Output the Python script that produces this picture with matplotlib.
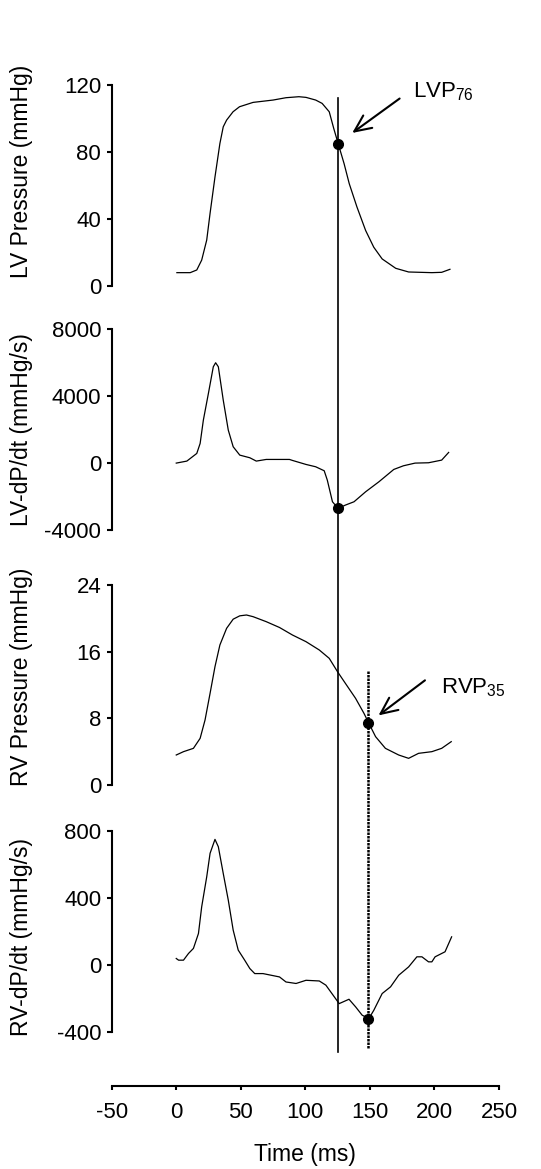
import numpy as np
import matplotlib
matplotlib.use("Agg")
import matplotlib.pyplot as plt
import matplotlib.transforms as mtransforms
from matplotlib.lines import Line2D

plt.rcParams['font.family'] = ['Liberation Sans', 'DejaVu Sans']
plt.rcParams['axes.unicode_minus'] = False
plt.rcParams['mathtext.fontset'] = 'custom'
plt.rcParams['mathtext.rm'] = 'Liberation Sans'
plt.rcParams['mathtext.it'] = 'Liberation Sans:italic'

# ---------------- data ----------------
# LV pressure (mmHg)
t_lvp = [0.5, 10.8, 15.9, 19.7, 23.6, 26.2, 30, 33.8, 36.4, 39, 44, 49, 59.5, 75, 85, 95,
         100.5, 108, 113, 118.5, 122, 125.4, 130, 134, 140, 146.7, 153, 159.5, 170, 180,
         198, 205.6, 212]
lvp = [7.8, 7.8, 9.4, 15.3, 27.3, 43.3, 65, 85, 95, 99, 104, 107, 109.6, 111, 112.4, 113,
       112.6, 111, 109, 104, 94, 85, 73, 61, 47, 33, 23, 16, 10.4, 8.2, 7.8, 8, 9.8]

# LV dP/dt (mmHg/s)
t_lvd = [0, 8.2, 15.9, 18.5, 21, 24.9, 28.7, 30.5, 32.6, 36.4, 40.3, 44.1, 49.2, 57, 62,
         69.7, 87.7, 90, 100.5, 108, 114.6, 117, 121, 125.4, 131, 137.7, 146.7, 157, 168.5,
         176, 185, 195.4, 205.6, 211]
lvd = [0, 120, 578, 1176, 2571, 4165, 5760, 6000, 5760, 3767, 1973, 977, 478, 319, 120,
       219, 219, 160, -80, -219, -458, -1016, -2312, -2710, -2511, -2312, -1714, -1116,
       -379, -160, 0, 20, 179, 638]

# RV pressure (mmHg)
t_rvp = [0, 5.6, 13.3, 18.5, 22.3, 26.2, 30, 33.8, 39, 44.1, 49.2, 54.4, 59.5, 69.7, 80,
         90, 100.5, 110.8, 118.5, 124.9, 131, 138.9, 145.4, 149.2, 154.4, 162, 172.3, 180,
         187.7, 198, 205.6, 213]
rvp = [3.6, 4.0, 4.4, 5.6, 7.8, 11, 14.2, 16.8, 18.8, 19.9, 20.3, 20.4, 20.2, 19.6, 18.9,
       18, 17.2, 16.2, 15.2, 13.6, 12.2, 10.4, 8.6, 7.4, 5.8, 4.4, 3.6, 3.2, 3.8, 4.0, 4.4, 5.2]

# RV dP/dt (mmHg/s)
t_rvd = [0, 1.8, 5.6, 9.5, 13.3, 17.2, 19.7, 23.6, 26.2, 30, 32.6, 36.4, 40.3, 44.1, 48,
         53, 57, 60.8, 67.2, 80, 85, 92.8, 100.5, 110.8, 115.9, 126.2, 133.8, 139, 144,
         149.2, 153, 159.5, 166, 172.3, 180, 186.4, 190.3, 195.4, 198, 200.5, 208.2, 213.3]
rvd = [40, 30, 30, 70, 100, 189, 348, 527, 667, 750, 706, 547, 388, 209, 90,
       30, -20, -50, -50, -70, -100, -109, -90, -94, -119, -229, -203, -249, -298,
       -318, -269, -169, -129, -60, -10, 50, 50, 20, 20, 50, 80, 169]

# marker times / values
t_lv_mark, lv_mark, lvd_mark = 125, 85, -2710
t_rv_mark, rv_mark, rvd_mark = 148.5, 7.4, -318

panel_labels = ['LV Pressure (mmHg)', 'LV-dP/dt (mmHg/s)', 'RV Pressure (mmHg)', 'RV-dP/dt (mmHg/s)']
panel_ylims = [(0, 120), (-4000, 8000), (0, 24), (-400, 800)]
panel_yticks = [[0, 40, 80, 120], [-4000, 0, 4000, 8000], [0, 8, 16, 24], [-400, 0, 400, 800]]
xticks = [-50, 0, 50, 100, 150, 200, 250]

# ---------------- layout ----------------
W, H = 541, 1169
fig = plt.figure(figsize=(W / 100, H / 100), dpi=100)

left = 111.7 / W
width = (499 - 111.7) / W
# (top_px, bottom_px) of each panel's y-spine
panel_px = [(85, 285.7), (329.3, 530), (585, 785), (831, 1032.3)]
label_ypos = [0.571, 0.5, 0.5425, 0.473]

series = [(t_lvp, lvp), (t_lvd, lvd), (t_rvp, rvp), (t_rvd, rvd)]
axes = []
for i, (top, bot) in enumerate(panel_px):
    ax = fig.add_axes([left, (H - bot) / H, width, (bot - top) / H])
    ax.patch.set_alpha(0)
    x, y = series[i]
    ax.plot(x, y, color='black', lw=0.9)
    ax.set_xlim(-50, 250)
    ax.set_ylim(*panel_ylims[i])
    ax.set_yticks(panel_yticks[i])
    ax.set_xticks([])
    for s in ['top', 'right', 'bottom']:
        ax.spines[s].set_visible(False)
    ax.spines['left'].set_linewidth(1.5)
    ax.tick_params(axis='y', direction='out', length=3.6, width=1.5, labelsize=16, pad=4)
    ax.set_ylabel(panel_labels[i], fontsize=16.5)
    ax.yaxis.set_label_coords(-0.203, label_ypos[i])
    axes.append(ax)

ax1, ax2, ax3, ax4 = axes

# dots
ax1.plot([t_lv_mark], [lv_mark], 'o', color='black', ms=7, clip_on=False)
ax2.plot([t_lv_mark], [lvd_mark], 'o', color='black', ms=7, clip_on=False)
ax3.plot([t_rv_mark], [rv_mark], 'o', color='black', ms=7, clip_on=False)
ax4.plot([t_rv_mark], [rvd_mark], 'o', color='black', ms=7, clip_on=False)

# vertical marker lines spanning the panels
trans = mtransforms.blended_transform_factory(ax4.transData, fig.transFigure)
fig.add_artist(Line2D([t_lv_mark, t_lv_mark], [(H - 98) / H, (H - 1052) / H],
                      transform=trans, color='black', lw=1.2))
fig.add_artist(Line2D([t_rv_mark, t_rv_mark], [(H - 671) / H, (H - 1049) / H],
                      transform=trans, color='black', lw=1.8, ls=(0, (1, 0.4))))

# arrows + labels
arrow = dict(arrowstyle='->,head_length=1.2,head_width=0.55', color='black', lw=1.5, shrinkA=0)
ax1.annotate('', xy=(t_lv_mark, lv_mark), xytext=(62, 45), textcoords='offset pixels',
             arrowprops=dict(arrow, shrinkB=13))
ax1.annotate('LVP$_{\\mathrm{76}}$', xy=(t_lv_mark, lv_mark), xytext=(75, 46),
             textcoords='offset pixels', fontsize=16, ha='left', va='baseline')
ax3.annotate('', xy=(t_rv_mark, rv_mark), xytext=(57, 43), textcoords='offset pixels',
             arrowprops=dict(arrow, shrinkB=9.5))
ax3.annotate('RVP$_{\\mathrm{35}}$', xy=(t_rv_mark, rv_mark), xytext=(73, 30),
             textcoords='offset pixels', fontsize=16, ha='left', va='baseline')

# shared time axis at the bottom
axx = fig.add_axes([left, (H - 1085.7) / H, width, 0.0001])
axx.patch.set_alpha(0)
axx.set_xlim(-50, 250)
axx.set_xticks(xticks)
axx.set_yticks([])
for s in ['top', 'right', 'left']:
    axx.spines[s].set_visible(False)
axx.spines['bottom'].set_linewidth(1.5)
axx.tick_params(axis='x', direction='out', length=3, width=1.5, labelsize=16, pad=9)
axx.set_xlabel('Time (ms)', fontsize=16.5, labelpad=14)

fig.savefig('out.png', dpi=100)
